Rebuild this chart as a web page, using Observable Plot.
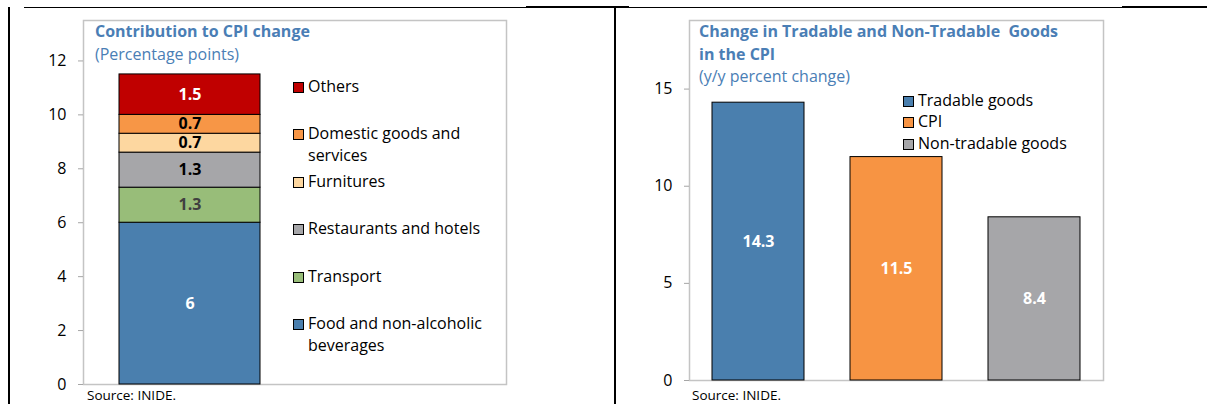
<!DOCTYPE html>
<html>
<head>
<meta charset="utf-8">
<script src="https://cdn.jsdelivr.net/npm/d3@7"></script>
<script src="https://cdn.jsdelivr.net/npm/@observablehq/plot@0.6"></script>
<style>
  body { margin: 0; background: #fff; }
  #wrap { position: relative; width: 1207px; height: 404px; overflow: hidden; font-family: "Open Sans", sans-serif; color: #000; }
  .title { position: absolute; color: #4a7eb5; font-size: 16px; line-height: 22.7px; white-space: nowrap; }
  .title b { font-weight: 700; }
  .source { position: absolute; font-size: 13.5px; line-height: 18px; white-space: nowrap; }
  .leg { position: absolute; font-size: 16px; line-height: 22px; }
  .leg .sw { position: absolute; left: 0; width: 9px; height: 9px; border: 1px solid #000; }
  .leg .tx { position: absolute; left: 15px; }
  .rule { position: absolute; background: #000; }
  svg { position: absolute; top: 0; overflow: visible; }
</style>
</head>
<body>
<div id="wrap"></div>
<script>
// ---------- data ----------
const cpiCategories = [
  "Food and non-alcoholic beverages",
  "Transport",
  "Restaurants and hotels",
  "Furnitures",
  "Domestic goods and services",
  "Others"
];
const cpiContributions = [6, 1.3, 1.3, 0.7, 0.7, 1.5];
const cpiLabels = ["6", "1.3", "1.3", "0.7", "0.7", "1.5"];
const leftYTicks = [0, 2, 4, 6, 8, 10, 12];

const goodsCategories = ["Tradable goods", "CPI", "Non-tradable goods"];
const goodsValues = [14.3, 11.5, 8.4];
const goodsLabels = ["14.3", "11.5", "8.4"];
const rightYTicks = [0, 5, 10, 15];

const leftTitle = "Contribution to CPI change";
const leftSubtitle = "(Percentage points)";
const rightTitle1 = "Change in Tradable and Non-Tradable\u00a0 Goods";
const rightTitle2 = "in the CPI";
const rightSubtitle = "(y/y percent change)";
const sourceText = "Source: INIDE.";

// ---------- styles ----------
const cpiColors = ["#4a7fae", "#98bd79", "#a6a6a9", "#fdd7a0", "#f79646", "#c00000"];
const cpiLabelColors = ["#ffffff", "#404040", "#000000", "#000000", "#000000", "#ffffff"];
const goodsColors = ["#4a7fae", "#f79443", "#a6a6a9"];

const wrap = document.getElementById("wrap");

// ---------- left chart ----------
const ends = d3.cumsum(cpiContributions);
const leftData = cpiCategories.map((c, i) => ({
  category: c, value: cpiContributions[i], label: cpiLabels[i],
  mid: ends[i] - cpiContributions[i] / 2, labelColor: cpiLabelColors[i]
}));
const labelColorSet = Array.from(new Set(cpiLabelColors));

const left = Plot.plot({
  width: 614, height: 404,
  marginTop: 20, marginBottom: 20, marginLeft: 83, marginRight: 108,
  x: { type: "band", domain: ["all"], range: [119, 260], padding: 0, axis: null },
  y: { domain: [0, 13.5], axis: null },
  color: { domain: cpiCategories, range: cpiColors },
  style: { fontFamily: "Open Sans", fontSize: "16px", background: "transparent", overflow: "visible" },
  marks: [
    Plot.frame({ stroke: "#c4c4c4", strokeWidth: 1.5 }),
    Plot.axisY({ ticks: leftYTicks, tickSize: 5, tickPadding: 12, stroke: "#a6a6a6", fill: "#000", fontSize: 16, label: null }),
    Plot.barY(leftData, { x: () => "all", y: "value", fill: "category", stroke: "#000", strokeWidth: 1 }),
    ...labelColorSet.map(col => Plot.text(leftData, {
      filter: d => d.labelColor === col,
      x: () => "all", y: "mid", text: "label", fill: col,
      fontWeight: "bold", fontSize: 16
    }))
  ]
});
left.style.left = "0px";
wrap.appendChild(left);

// ---------- right chart ----------
const goodsData = goodsCategories.map((c, i) => ({ category: c, value: goodsValues[i], label: goodsLabels[i] }));
const right = Plot.plot({
  width: 593, height: 404,
  marginTop: 20, marginBottom: 24, marginLeft: 75, marginRight: 104,
  x: { type: "band", domain: goodsCategories, paddingInner: 0.33, paddingOuter: 0.16, axis: null },
  y: { domain: [0, 18.53], axis: null },
  color: { domain: goodsCategories, range: goodsColors },
  style: { fontFamily: "Open Sans", fontSize: "16px", background: "transparent", overflow: "visible" },
  marks: [
    Plot.frame({ stroke: "#c4c4c4", strokeWidth: 1.5 }),
    Plot.axisY({ ticks: rightYTicks, tickSize: 5, tickPadding: 12, stroke: "#a6a6a6", fill: "#000", fontSize: 16, label: null }),
    Plot.barY(goodsData, { x: "category", y: "value", fill: "category", stroke: "#000", strokeWidth: 1 }),
    Plot.text(goodsData, { x: "category", y: d => d.value / 2, text: "label", fill: "#fff", fontWeight: "bold", fontSize: 16 })
  ]
});
right.style.left = "614px";
wrap.appendChild(right);

// ---------- decorations: frame rules ----------
function rule(l, t, w, h) {
  const d = document.createElement("div");
  d.className = "rule";
  Object.assign(d.style, { left: l + "px", top: t + "px", width: w + "px", height: h + "px" });
  wrap.appendChild(d);
}
rule(8, 7, 2, 397);
rule(24, 7, 502, 1);
rule(526, 6, 103, 2);
rule(614, 7, 2, 397);
rule(629, 7, 493, 1);
rule(1122, 6, 85, 2);

// ---------- titles ----------
function addTitle(l, t, lines) {
  const d = document.createElement("div");
  d.className = "title";
  d.style.left = l + "px"; d.style.top = t + "px";
  lines.forEach(([txt, bold]) => {
    const line = document.createElement("div");
    if (bold) { const b = document.createElement("b"); b.textContent = txt; line.appendChild(b); }
    else line.textContent = txt;
    d.appendChild(line);
  });
  wrap.appendChild(d);
}
addTitle(95, 20, [[leftTitle, true], [leftSubtitle, false]]);
addTitle(699, 20, [[rightTitle1, true], [rightTitle2, true], [rightSubtitle, false]]);

// ---------- sources ----------
function addSource(l, t) {
  const d = document.createElement("div");
  d.className = "source";
  d.style.left = l + "px"; d.style.top = t + "px";
  d.textContent = sourceText;
  wrap.appendChild(d);
}
addSource(87, 386);
addSource(692, 386);

// ---------- legends ----------
function addLegendItem(l, t, color, text, width) {
  const d = document.createElement("div");
  d.className = "leg";
  d.style.left = l + "px"; d.style.top = t + "px"; d.style.width = width + "px";
  const sw = document.createElement("div");
  sw.className = "sw"; sw.style.background = color; sw.style.top = "7px";
  const tx = document.createElement("div");
  tx.className = "tx"; tx.textContent = text; tx.style.width = (width - 15) + "px";
  d.appendChild(sw); d.appendChild(tx);
  wrap.appendChild(d);
}
// left legend: top item first (reverse of stack order)
const leftLegendOrder = cpiCategories.slice().reverse();
leftLegendOrder.forEach((c, i) => {
  addLegendItem(293, 75 + i * 47.4, cpiColors[cpiCategories.indexOf(c)], c, 212);
});
goodsCategories.forEach((c, i) => {
  addLegendItem(903, 88.5 + i * 21.7, goodsColors[i], c, 200);
});
</script>
</body>
</html>
